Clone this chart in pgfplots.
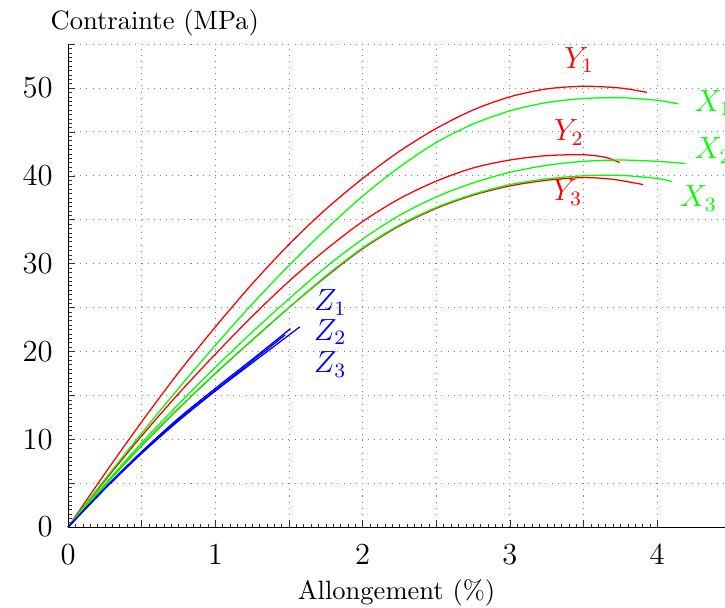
\documentclass[border=0pt]{standalone}
\usepackage{pgfplots}
\pgfplotsset{compat=1.18}

\begin{document}
\begin{tikzpicture}
  \begin{axis}[
      scale only axis,
      width=257.6pt, height=189.4pt,
      xmin=0, xmax=4.46,
      ymin=0, ymax=55,
      axis lines*=left,
      xtick={0,0.5,...,4},
      xticklabels={0,,1,,2,,3,,4},
      ytick={0,5,...,55},
      yticklabels={0,,10,,20,,30,,40,,50,},
      minor tick num=9,
      major tick length=2.8pt,
      minor tick length=1.4pt,
      tick style={black!80},
      ticklabel style={font=\large},
      xticklabel style={yshift=-3pt},
      yticklabel style={xshift=-2.5pt},
      grid=major,
      grid style={dotted, gray},
      xlabel={Allongement (\%)},
      xlabel style={font=\fontsize{10.4}{12}\selectfont, yshift=1pt},
      ylabel={Contrainte (MPa)},
      ylabel style={font=\fontsize{10.4}{12}\selectfont, rotate=-90,
                    at={(axis description cs:0,1)},
                    anchor=south, xshift=34pt, yshift=-0.5pt},
      clip=false,
      every axis plot/.append style={line width=0.5pt, smooth},
    ]
    % Y curves (red)
    \addplot[red] coordinates {(0,0) (0.25,6.1) (0.5,12.0) (0.75,17.6) (1.0,22.8)
      (1.25,27.7) (1.5,32.2) (1.75,36.2) (2.0,39.7) (2.25,42.8) (2.5,45.4)
      (2.75,47.5) (3.0,49.0) (3.25,49.9) (3.5,50.2) (3.75,50.0) (3.93,49.5)};
    \addplot[red] coordinates {(0,0) (0.25,5.3) (0.5,10.4) (0.75,15.2) (1.0,19.7)
      (1.25,24.0) (1.5,28.0) (1.75,31.6) (2.0,34.8) (2.25,37.4) (2.5,39.4)
      (2.75,40.9) (3.0,41.8) (3.25,42.3) (3.5,42.4) (3.65,42.1) (3.745,41.5)};
    \addplot[red] coordinates {(0,0) (0.25,4.75) (0.5,9.3) (0.75,13.5) (1.0,17.5)
      (1.25,21.3) (1.5,25.0) (1.75,28.5) (2.0,31.7) (2.25,34.3) (2.5,36.3)
      (2.75,37.8) (3.0,38.85) (3.25,39.5) (3.5,39.8) (3.7,39.6) (3.905,39.0)};
    % X curves (green)
    \addplot[green] coordinates {(0,0) (0.25,5.45) (0.5,10.7) (0.75,15.8) (1.0,20.7)
      (1.25,25.4) (1.5,29.8) (1.75,33.9) (2.0,37.7) (2.25,41.0) (2.5,43.8)
      (2.75,45.9) (3.0,47.4) (3.25,48.35) (3.5,48.8) (3.75,48.9) (4.0,48.6) (4.14,48.2)};
    \addplot[green] coordinates {(0,0) (0.25,4.9) (0.5,9.6) (0.75,14.0) (1.0,18.2)
      (1.25,22.2) (1.5,26.0) (1.75,29.6) (2.0,32.8) (2.25,35.5) (2.5,37.6)
      (2.75,39.2) (3.0,40.4) (3.25,41.2) (3.5,41.65) (3.75,41.8) (4.0,41.65) (4.19,41.4)};
    \addplot[green] coordinates {(0,0) (0.25,4.75) (0.5,9.3) (0.75,13.5) (1.0,17.5)
      (1.25,21.3) (1.5,25.0) (1.75,28.6) (2.0,31.8) (2.25,34.4) (2.5,36.4)
      (2.75,37.9) (3.0,39.0) (3.25,39.65) (3.5,40.0) (3.75,40.05) (4.0,39.7) (4.10,39.35)};
    % Z curves (blue)
    \addplot[blue] coordinates {(0,0) (0.25,4.45) (0.5,8.6) (0.75,12.4) (1.0,15.8)
      (1.25,19.1) (1.51,22.6)};
    \addplot[blue] coordinates {(0,0) (0.25,4.35) (0.5,8.4) (0.75,12.1) (1.0,15.5)
      (1.25,18.7) (1.573,22.8)};
    \addplot[blue] coordinates {(0,0) (0.25,4.4) (0.5,8.5) (0.75,12.25) (1.0,15.6)
      (1.25,18.9) (1.474,21.9)};

    \node[red, font=\large] at (axis cs:3.47,53.2) {$Y_1$};
    \node[red, font=\large] at (axis cs:3.40,44.9) {$Y_2$};
    \node[red, font=\large] at (axis cs:3.39,38.1) {$Y_3$};
    \node[green, font=\large] at (axis cs:4.38,48.3) {$X_1$};
    \node[green, font=\large] at (axis cs:4.38,42.9) {$X_2$};
    \node[green, font=\large] at (axis cs:4.28,37.4) {$X_3$};
    \node[blue, font=\large] at (axis cs:1.78,25.6) {$Z_1$};
    \node[blue, font=\large] at (axis cs:1.78,22.2) {$Z_2$};
    \node[blue, font=\large] at (axis cs:1.78,18.5) {$Z_3$};
  \end{axis}
  \pgfresetboundingbox
  \useasboundingbox (-26.7pt,-31.4pt) rectangle (257.6pt,206.7pt);
\end{tikzpicture}
\end{document}
